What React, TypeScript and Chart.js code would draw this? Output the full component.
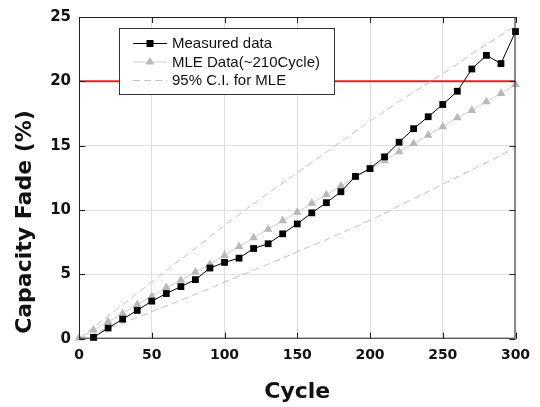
import React, { useEffect, useRef } from 'react';
import { Chart, registerables } from 'chart.js';

Chart.register(...registerables);

// ---- data ----
const measuredCycles = [10, 20, 30, 40, 50, 60, 70, 80, 90, 100, 110, 120, 130, 140, 150, 160, 170, 180, 190, 200, 210, 220, 230, 240, 250, 260, 270, 280, 290, 300];
const measuredFade = [0.1, 0.83, 1.52, 2.2, 2.92, 3.51, 4.05, 4.59, 5.49, 5.93, 6.26, 7.01, 7.38, 8.15, 8.92, 9.78, 10.57, 11.42, 12.61, 13.22, 14.13, 15.27, 16.32, 17.25, 18.2, 19.23, 20.96, 22.02, 21.38, 23.87];

const mleCycles = [0, 10, 20, 30, 40, 50, 60, 70, 80, 90, 100, 110, 120, 130, 140, 150, 160, 170, 180, 190, 200, 210, 220, 230, 240, 250, 260, 270, 280, 290, 300];
const mleFade = [0.05, 0.67, 1.31, 1.96, 2.66, 3.3, 3.97, 4.54, 5.18, 5.78, 6.47, 7.17, 7.84, 8.51, 9.16, 9.82, 10.52, 11.19, 11.86, 12.58, 13.18, 13.82, 14.52, 15.16, 15.81, 16.47, 17.17, 17.74, 18.41, 19.06, 19.75];

const ciCycles = [0, 25, 50, 75, 100, 125, 150, 175, 200, 225, 250, 275, 300];
const ciUpper = [0, 2.2, 4.4, 6.6, 8.8, 10.9, 12.9, 14.9, 16.9, 18.8, 20.6, 22.5, 24.3];
const ciLower = [0, 1.0, 2.1, 3.2, 4.4, 5.55, 6.75, 7.95, 9.2, 10.6, 12.0, 13.4, 14.85];

const limitCycles = [0, 300];
const limitFade = [20, 20];

const xMin = 0, xMax = 300, xStep = 50;
const yMin = 0, yMax = 25, yStep = 5;

const legendLabels = ['Measured data', 'MLE Data(~210Cycle)', '95% C.I. for MLE'];
const xTitle = 'Cycle';
const yTitle = 'Capacity Fade (%)';

const pts = (xs: number[], ys: number[]) => xs.map((x, i) => ({ x, y: ys[i] }));

const GRID = '#dedede';
const CI_COLOR = '#c4c4c4';
const MLE_COLOR = '#b8b8b8';
const MLE_LINE = '#cfcfcf';

const framePlugin = {
  id: 'framePlugin',
  afterDraw(chart: any) {
    const { ctx, chartArea: a, scales } = chart;
    const xs = scales.x, ys = scales.y;
    ctx.save();
    ctx.strokeStyle = '#222';
    ctx.lineWidth = 1;
    ctx.setLineDash([]);
    ctx.strokeRect(a.left + 0.5, a.top + 0.5, a.right - a.left - 1, a.bottom - a.top - 1);
    const tl = 6;
    ctx.beginPath();
    xs.ticks.forEach((t: any) => {
      const px = Math.round(xs.getPixelForValue(t.value)) + 0.5;
      ctx.moveTo(px, a.top);
      ctx.lineTo(px, a.top + tl);
      ctx.moveTo(px, a.bottom);
      ctx.lineTo(px, a.bottom - tl);
    });
    ys.ticks.forEach((t: any) => {
      const py = Math.round(ys.getPixelForValue(t.value)) + 0.5;
      ctx.moveTo(a.left, py);
      ctx.lineTo(a.left + tl, py);
      ctx.moveTo(a.right, py);
      ctx.lineTo(a.right - tl, py);
    });
    ctx.stroke();

    ctx.save();
    ctx.translate(25, 222);
    ctx.rotate(-Math.PI / 2);
    ctx.font = 'bold 22px "DejaVu Sans"';
    ctx.fillStyle = '#111';
    ctx.textAlign = 'center';
    ctx.textBaseline = 'middle';
    ctx.fillText(yTitle, 0, 0);
    ctx.restore();

    const bx = 119.5, by = 28.5, bw = 215, bh = 66;
    ctx.fillStyle = '#fff';
    ctx.fillRect(bx, by, bw, bh);
    ctx.strokeStyle = '#333';
    ctx.lineWidth = 1;
    ctx.strokeRect(bx, by, bw, bh);
    const rows = [43.5, 62, 80.5];
    const lx0 = 133, lx1 = 167, mx = 150, tx = 172;
    ctx.font = '15px "Liberation Sans"';
    ctx.textBaseline = 'middle';
    ctx.textAlign = 'left';
    ctx.strokeStyle = '#000';
    ctx.beginPath(); ctx.moveTo(lx0, rows[0]); ctx.lineTo(lx1, rows[0]); ctx.stroke();
    ctx.fillStyle = '#000';
    ctx.fillRect(mx - 3.5, rows[0] - 3.5, 7, 7);
    ctx.strokeStyle = MLE_LINE;
    ctx.beginPath(); ctx.moveTo(lx0, rows[1]); ctx.lineTo(lx1, rows[1]); ctx.stroke();
    ctx.fillStyle = MLE_COLOR;
    const r = 5;
    ctx.beginPath();
    ctx.moveTo(mx, rows[1] - r);
    ctx.lineTo(mx + r * Math.sin(2 * Math.PI / 3), rows[1] + r / 2);
    ctx.lineTo(mx - r * Math.sin(2 * Math.PI / 3), rows[1] + r / 2);
    ctx.closePath();
    ctx.fill();
    ctx.strokeStyle = CI_COLOR;
    ctx.setLineDash([7, 4]);
    ctx.beginPath(); ctx.moveTo(lx0, rows[2]); ctx.lineTo(lx1, rows[2]); ctx.stroke();
    ctx.setLineDash([]);
    ctx.fillStyle = '#111';
    legendLabels.forEach((l, i) => ctx.fillText(l, tx, rows[i] + 0.5));
    ctx.restore();
  },
};

export default function App() {
  const ref = useRef<HTMLCanvasElement | null>(null);
  useEffect(() => {
    if (!ref.current) return;
    const chart = new Chart(ref.current, {
      type: 'line',
      data: {
        datasets: [
          {
            label: 'limit',
            data: pts(limitCycles, limitFade),
            borderColor: '#e3231f',
            borderWidth: 2,
            pointRadius: 0,
            order: 6,
          },
          {
            label: 'upper',
            data: pts(ciCycles, ciUpper),
            borderColor: CI_COLOR,
            borderWidth: 1,
            borderDash: [7, 4],
            pointRadius: 0,
            tension: 0.4,
            order: 5,
          },
          {
            label: 'lower',
            data: pts(ciCycles, ciLower),
            borderColor: CI_COLOR,
            borderWidth: 1,
            borderDash: [7, 4],
            pointRadius: 0,
            tension: 0.4,
            order: 4,
          },
          {
            label: legendLabels[1],
            data: pts(mleCycles, mleFade),
            borderColor: MLE_LINE,
            borderWidth: 1,
            pointStyle: 'triangle',
            pointRadius: 5,
            pointBackgroundColor: MLE_COLOR,
            pointBorderColor: MLE_COLOR,
            pointBorderWidth: 0,
            clip: false,
            order: 3,
          },
          {
            label: legendLabels[0],
            data: pts(measuredCycles, measuredFade),
            borderColor: '#000',
            borderWidth: 1,
            pointStyle: 'rect',
            pointRadius: 4.8,
            pointBackgroundColor: '#000',
            pointBorderColor: '#000',
            pointBorderWidth: 0,
            clip: false,
            order: 2,
          },
        ],
      },
      options: {
        animation: false,
        responsive: false,
        maintainAspectRatio: false,
        layout: { padding: { left: 0, right: 24.5, top: 15.3, bottom: 0 } },
        plugins: { legend: { display: false }, tooltip: { enabled: false } },
        scales: {
          x: {
            type: 'linear',
            min: xMin,
            max: xMax,
            afterFit: (s: any) => { s.height = 407 - 338.7; },
            ticks: { stepSize: xStep, padding: 8, color: '#111', font: { family: 'DejaVu Sans', size: 14, weight: 'bold' } },
            grid: { color: GRID, drawTicks: false },
            border: { display: false },
            title: { display: true, text: xTitle, color: '#111', padding: { top: 0, bottom: 2 }, font: { family: 'DejaVu Sans', size: 22, weight: 'bold' } },
          },
          y: {
            type: 'linear',
            min: yMin,
            max: yMax,
            afterFit: (s: any) => { s.width = 79; },
            ticks: { stepSize: yStep, padding: 8, color: '#111', font: { family: 'DejaVu Sans', size: 15, weight: 'bold' } },
            grid: { color: GRID, drawTicks: false },
            border: { display: false },
          },
        },
      },
      plugins: [framePlugin],
    });
    return () => chart.destroy();
  }, []);
  return (
    <div style={{ position: 'fixed', left: 0, top: 0, width: 540, height: 407, background: '#fff' }}>
      <canvas ref={ref} width={540} height={407} />
    </div>
  );
}
